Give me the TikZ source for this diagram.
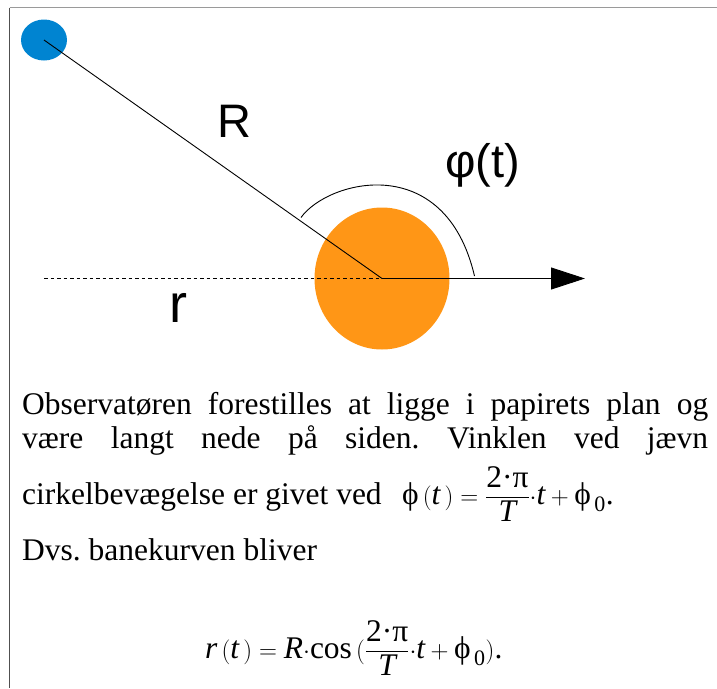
\documentclass[tikz,border=0pt]{standalone}
\usepackage{fontspec}
\usepackage{amsmath}
\setmainfont{Liberation Serif}
\newfontfamily\labelfont{Liberation Sans}
\usetikzlibrary{arrows.meta,shapes.geometric}
\definecolor{ballblue}{HTML}{0084D1}
\definecolor{sunorange}{HTML}{FF9616}
\definecolor{frametop}{HTML}{9A9A9A}
\definecolor{frameleft}{HTML}{505050}
\frenchspacing
\begin{document}
\begin{tikzpicture}[x=1pt,y=-1pt,
  lbl/.style={font=\labelfont\fontsize{47}{47}\selectfont, inner sep=0pt},
  txt/.style={font=\fontsize{31.5}{34}\selectfont, inner sep=0pt, anchor=base west},
  thinline/.style={line width=0.9pt}]
\useasboundingbox (0,0) rectangle (717,688);
% frame
\draw[frametop, line width=1.4pt] (9.5,7.5) -- (717,7.5);
\draw[frameleft, line width=1.3pt] (9.5,7.5) -- (9.5,688);
% bodies
\node[ellipse, fill=sunorange, minimum width=135pt, minimum height=142pt, inner sep=0pt] (sun) at (382,278.5) {};
\node[ellipse, fill=ballblue, minimum width=46pt, minimum height=41pt, inner sep=0pt] (planet) at (44,40) {};
% lines
\draw[thinline] (planet.center) -- (sun.center);
\coordinate (dstart) at (44,278.5);
\coordinate (atip) at (585,278.5);
\coordinate (arcstart) at (301,217.5);
\coordinate (arcend) at (474.5,276);
\draw[thinline, dash pattern=on 3.5pt off 3pt] (dstart) -- (sun.center);
\draw[thinline, -{Triangle[length=34pt,width=22pt]}] (sun.center) -- (atip);
% angle arc
\draw[thinline] (arcstart) .. controls (328,180) and (445,150) .. (arcend);
% labels
\node[lbl] (Rl) at (234.5,121) {R};
\node[lbl] (phil) at (482.5,165) {φ(t)};
\node[lbl, font=\labelfont\fontsize{54}{54}\selectfont] (rl) at (178.7,307.5) {r};
% text
\node[txt] (l1) at (22,414) {\makebox[686pt][s]{Observatøren forestilles at ligge i papirets plan og}};
\node[txt] (l2) at (22,448) {\makebox[686pt][s]{være langt nede på siden. Vinklen ved jævn}};
\node[txt] (l3) at (22,504) {cirkelbevægelse er givet ved};
\node[txt] (f1) at (402,504) {$\text{ϕ}\,(\textit{t}\,)=\dfrac{\text{2·π}}{\textit{T}}{\cdot}\textit{t}+\text{ϕ}_{\,\text{0}}$.};
\node[txt] (l4) at (22,560) {Dvs. banekurven bliver};
\node[txt] (f2) at (205,658) {$\textit{r}\,(\textit{t}\,)=\textit{R}{\cdot}\text{cos}\,(\dfrac{\text{2·π}}{\textit{T}}{\cdot}\textit{t}+\text{ϕ}_{\,\text{0}})$.};
\end{tikzpicture}
\end{document}
